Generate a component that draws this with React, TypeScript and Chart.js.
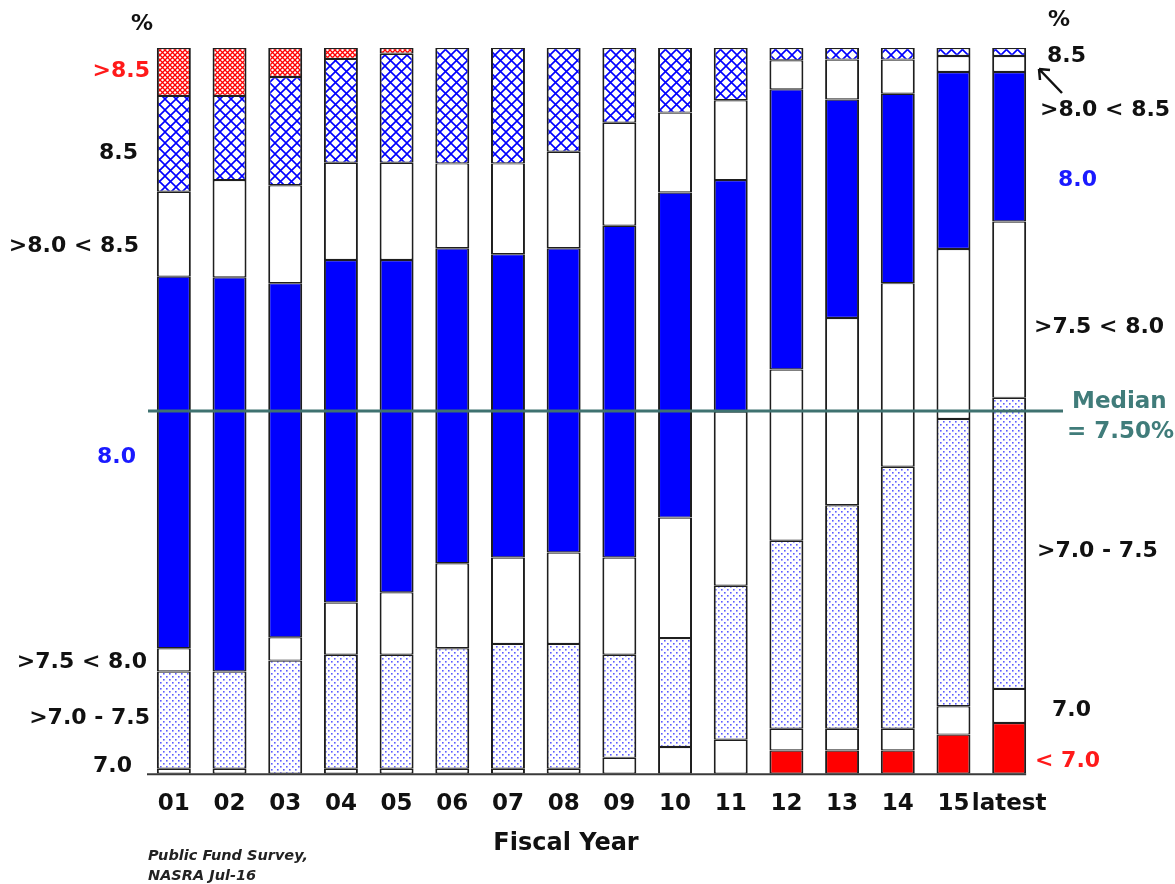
import React, { useEffect, useRef } from 'react';
import { Chart, registerables } from 'chart.js';

Chart.register(...registerables);

// fiscal years on the x axis
const years = ['01', '02', '03', '04', '05', '06', '07', '08', '09', '10', '11', '12', '13', '14', '15', 'latest'];

// share of plans (%) by assumed rate of return, stacked bottom to top
const below70 = [0, 0, 0, 0, 0, 0, 0, 0, 0, 0, 0, 3.2, 3.2, 3.2, 5.4, 7.0];
const at70 = [0.7, 0.7, 0, 0.7, 0.7, 0.7, 0.7, 0.7, 2.2, 3.7, 4.7, 3.0, 3.0, 3.0, 3.9, 4.7];
const over70to75 = [13.4, 13.4, 15.6, 15.7, 15.7, 16.6, 17.2, 17.2, 14.2, 15.0, 21.2, 25.9, 30.8, 36.1, 39.6, 40.1];
const over75under80 = [3.2, 0, 3.2, 7.2, 8.6, 11.7, 11.9, 12.6, 13.4, 16.6, 24.0, 23.6, 25.8, 25.3, 23.4, 24.3];
const at80 = [51.2, 54.3, 48.8, 47.2, 45.8, 43.4, 41.8, 41.9, 45.7, 44.8, 31.9, 38.6, 30.1, 26.1, 24.4, 20.6];
const over80under85 = [11.7, 13.4, 13.5, 13.4, 13.4, 11.7, 12.5, 13.3, 14.2, 11.0, 11.0, 4.0, 5.5, 4.7, 2.2, 2.2];
const at85 = [13.2, 11.6, 14.9, 14.3, 15.0, 15.9, 15.9, 14.3, 10.3, 8.9, 7.2, 1.7, 1.6, 1.6, 1.1, 1.1];
const above85 = [6.6, 6.6, 4.0, 1.5, 0.8, 0, 0, 0, 0, 0, 0, 0, 0, 0, 0, 0];

// median line sits at half of the plans
const medianShare = 50;

const FONT = '"DejaVu Sans", sans-serif';

const makePattern = (size: number, draw: (c: CanvasRenderingContext2D) => void) => {
    const cv = document.createElement('canvas');
    cv.width = size;
    cv.height = size;
    const c = cv.getContext('2d')!;
    c.fillStyle = '#ffffff';
    c.fillRect(0, 0, size, size);
    draw(c);
    return c.createPattern(cv, 'repeat')!;
};

const crossHatch = (color: string, size: number, lw: number) =>
    makePattern(size, (c) => {
        c.strokeStyle = color;
        c.lineWidth = lw;
        for (let k = -1; k <= 1; k++) {
            c.beginPath();
            c.moveTo(k * size, 0);
            c.lineTo(k * size + size, size);
            c.moveTo(k * size + size, 0);
            c.lineTo(k * size, size);
            c.stroke();
        }
    });

const dots = () =>
    makePattern(6, (c) => {
        c.fillStyle = '#5c5cff';
        c.fillRect(1, 1, 1.6, 1.6);
        c.fillRect(4, 4, 1.6, 1.6);
    });

type Lbl = [string, number, number, CanvasTextAlign, string, number];

// side labels: text, x, y, alignment, colour, size
const sideLabels: Lbl[] = [
    ['%', 142, 24, 'center', '#111', 22],
    ['>8.5', 150, 71, 'right', '#ff1a1a', 22],
    ['8.5', 138, 153, 'right', '#111', 22],
    ['>8.0 < 8.5', 139, 246, 'right', '#111', 22],
    ['8.0', 136, 457, 'right', '#1a1aff', 22],
    ['>7.5 < 8.0', 147, 662, 'right', '#111', 22],
    ['>7.0 - 7.5', 150, 718, 'right', '#111', 22],
    ['7.0', 132, 766, 'right', '#111', 22],
    ['%', 1059, 20, 'center', '#111', 22],
    ['8.5', 1047, 56, 'left', '#111', 22],
    ['>8.0 < 8.5', 1040, 110, 'left', '#111', 22],
    ['8.0', 1058, 180, 'left', '#1a1aff', 22],
    ['>7.5 < 8.0', 1034, 327, 'left', '#111', 22],
    ['Median', 1072, 402, 'left', '#407c7a', 23],
    ['= 7.50%', 1067, 432, 'left', '#407c7a', 23],
    ['>7.0 - 7.5', 1037, 551, 'left', '#111', 22],
    ['7.0', 1052, 710, 'left', '#111', 22],
    ['< 7.0', 1035, 761, 'left', '#ff1a1a', 22],
];

const annotations = {
    id: 'annotations',
    afterDatasetsDraw(chart: Chart) {
        const { ctx, chartArea, scales } = chart;
        const meta = chart.getDatasetMeta(0);
        const last: any = meta.data[meta.data.length - 1];
        ctx.save();
        // x axis base line
        ctx.strokeStyle = '#3a3a3a';
        ctx.lineWidth = 2;
        ctx.beginPath();
        ctx.moveTo(chartArea.left + 1, chartArea.bottom + 0.5);
        ctx.lineTo(last.x + last.width / 2, chartArea.bottom + 0.5);
        ctx.stroke();
        // median line
        const my = scales.y.getPixelForValue(medianShare);
        ctx.strokeStyle = '#3f7270';
        ctx.lineWidth = 3;
        ctx.beginPath();
        ctx.moveTo(chartArea.left + 2, my);
        ctx.lineTo(1063, my);
        ctx.stroke();
        ctx.restore();
    },
    afterDraw(chart: Chart) {
        const { ctx } = chart;
        ctx.save();
        ctx.textBaseline = 'middle';
        sideLabels.forEach(([s, x, y, align, color, size]) => {
            ctx.font = `bold ${size}px ${FONT}`;
            ctx.fillStyle = color;
            ctx.textAlign = align;
            ctx.fillText(s, x, y);
        });
        ctx.font = `bold 24px ${FONT}`;
        ctx.fillStyle = '#111';
        ctx.textAlign = 'center';
        ctx.fillText('Fiscal Year', 566, 844);
        ctx.font = `italic bold 14.5px ${FONT}`;
        ctx.textAlign = 'left';
        ctx.fillStyle = '#222';
        ctx.fillText('Public Fund Survey,', 148, 856);
        ctx.fillText('NASRA Jul-16', 148, 876);
        // arrow pointing at the thin 8.5 band
        ctx.strokeStyle = '#111';
        ctx.lineWidth = 2.5;
        ctx.beginPath();
        ctx.moveTo(1062, 93);
        ctx.lineTo(1039, 69);
        ctx.moveTo(1039, 69);
        ctx.lineTo(1050, 70);
        ctx.moveTo(1039, 69);
        ctx.lineTo(1040, 80);
        ctx.stroke();
        ctx.restore();
    },
};

const App: React.FC = () => {
    const chartRef = useRef<HTMLCanvasElement | null>(null);
    const chartInstanceRef = useRef<Chart | null>(null);

    useEffect(() => {
        if (!chartRef.current) return;

        const blue = '#0000ff';
        const red = '#ff0000';
        const white = '#ffffff';
        const border = { left: 2, right: 2, top: 1.2, bottom: 1.2 };

        const series = [
            { label: '< 7.0', data: below70, backgroundColor: red },
            { label: '7.0', data: at70, backgroundColor: white },
            { label: '>7.0 - 7.5', data: over70to75, backgroundColor: dots() },
            { label: '>7.5 < 8.0', data: over75under80, backgroundColor: white },
            { label: '8.0', data: at80, backgroundColor: blue },
            { label: '>8.0 < 8.5', data: over80under85, backgroundColor: white },
            { label: '8.5', data: at85, backgroundColor: crossHatch(blue, 11, 1.6) },
            { label: '>8.5', data: above85, backgroundColor: crossHatch(red, 5, 1.3) },
        ];

        if (chartInstanceRef.current) {
            chartInstanceRef.current.destroy();
        }

        chartInstanceRef.current = new Chart(chartRef.current, {
            type: 'bar',
            data: {
                labels: years,
                datasets: series.map(s => ({
                    ...s,
                    borderColor: '#1e1e1e',
                    borderWidth: border,
                    borderSkipped: false,
                    barPercentage: 0.61,
                    categoryPercentage: 1,
                })),
            },
            options: {
                responsive: true,
                maintainAspectRatio: false,
                animation: false,
                layout: { padding: { left: 146, right: 138, top: 48, bottom: 50.6 } },
                scales: {
                    x: {
                        stacked: true,
                        grid: { display: false, drawTicks: false },
                        border: { display: false },
                        ticks: {
                            padding: 16,
                            color: '#111',
                            autoSkip: false,
                            maxRotation: 0,
                            minRotation: 0,
                            font: { family: FONT, size: 23, weight: 'bold' },
                        },
                    },
                    y: {
                        stacked: true,
                        display: false,
                        min: 0,
                        max: 100,
                    },
                },
                plugins: {
                    legend: { display: false },
                    tooltip: { enabled: false },
                },
            },
            plugins: [annotations],
        });

        return () => {
            chartInstanceRef.current?.destroy();
            chartInstanceRef.current = null;
        };
    }, []);

    return (
        <div style={{ position: 'absolute', left: 0, top: 0, width: 1175, height: 884, background: '#fff' }}>
            <canvas ref={chartRef}></canvas>
        </div>
    );
};

export default App;
